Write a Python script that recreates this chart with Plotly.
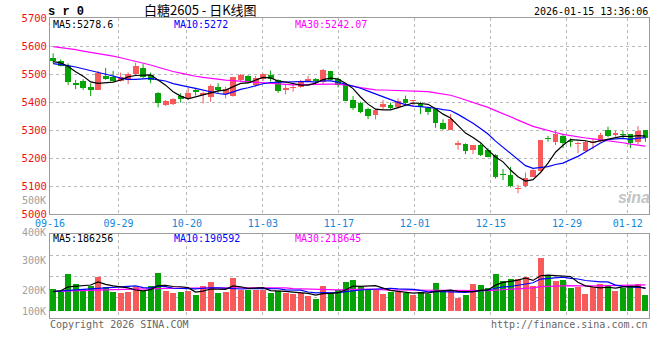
import plotly.graph_objects as go

# ---------------- data ----------------
date_labels = ["09-16", "09-29", "10-20", "11-03", "11-17", "12-01", "12-15", "12-29", "01-12"]
date_label_days = [0, 9, 18, 28, 38, 48, 58, 68, 76]   # trading-day index of each label

opens = [5558, 5546, 5529, 5469, 5475, 5455, 5443, 5494, 5488, 5476,
         5479, 5499, 5520, 5496, 5433, 5389, 5393, 5421, 5413, 5443,
         5425, 5419, 5455, 5427, 5423, 5479, 5493, 5461, 5481, 5496,
         5479, 5443, 5451, 5455, 5475, 5482, 5473, 5511, 5482, 5464,
         5407, 5395, 5374, 5354, 5383, 5389, 5383, 5411, 5405, 5393,
         5380, 5374, 5324, 5300, 5246, 5250, 5229, 5246, 5229, 5211,
         5143, 5139, 5089, 5101, 5133, 5155, 5271, 5258, 5279, 5261,
         5249, 5226, 5252, 5262, 5300, 5283, 5286, 5286, 5256, 5300]
highs = [5574, 5552, 5538, 5479, 5481, 5467, 5511, 5522, 5511, 5505,
         5506, 5540, 5535, 5505, 5435, 5407, 5414, 5431, 5451, 5451,
         5437, 5463, 5467, 5455, 5490, 5500, 5496, 5493, 5502, 5512,
         5481, 5461, 5467, 5479, 5493, 5485, 5518, 5511, 5488, 5467,
         5421, 5401, 5380, 5375, 5407, 5398, 5413, 5423, 5407, 5401,
         5383, 5377, 5338, 5357, 5262, 5252, 5246, 5252, 5235, 5214,
         5161, 5169, 5104, 5148, 5160, 5264, 5279, 5298, 5286, 5270,
         5258, 5262, 5270, 5290, 5312, 5298, 5298, 5286, 5314, 5300]
lows = [5538, 5527, 5461, 5446, 5443, 5421, 5443, 5479, 5473, 5473,
        5464, 5493, 5485, 5467, 5381, 5386, 5389, 5398, 5407, 5423,
        5395, 5401, 5431, 5413, 5419, 5473, 5467, 5455, 5475, 5473,
        5433, 5427, 5437, 5451, 5473, 5461, 5461, 5475, 5452, 5404,
        5371, 5360, 5339, 5338, 5374, 5374, 5377, 5392, 5383, 5357,
        5354, 5308, 5300, 5300, 5229, 5214, 5214, 5207, 5202, 5127,
        5121, 5095, 5074, 5095, 5133, 5151, 5258, 5246, 5235, 5240,
        5217, 5223, 5231, 5258, 5274, 5276, 5270, 5235, 5250, 5258]
closes = [5546, 5530, 5473, 5462, 5451, 5443, 5505, 5482, 5475, 5488,
          5499, 5529, 5490, 5479, 5398, 5405, 5412, 5411, 5431, 5435,
          5431, 5458, 5443, 5446, 5488, 5496, 5469, 5485, 5500, 5481,
          5440, 5451, 5455, 5475, 5482, 5475, 5514, 5479, 5461, 5405,
          5380, 5365, 5351, 5371, 5392, 5380, 5405, 5398, 5407, 5383,
          5365, 5326, 5302, 5339, 5252, 5226, 5246, 5211, 5205, 5131,
          5138, 5100, 5092, 5127, 5157, 5264, 5269, 5286, 5252, 5257,
          5255, 5258, 5258, 5282, 5280, 5288, 5282, 5252, 5298, 5270]

ma5 = [5544, 5540, 5527, 5508, 5492.4, 5471.8, 5466.8, 5468.6, 5471.2, 5478.6,
       5489.8, 5494.6, 5496.2, 5497.0, 5479.0, 5460.2, 5436.8, 5421.0, 5411.4, 5418.8,
       5424.0, 5433.2, 5439.6, 5442.6, 5453.2, 5466.2, 5468.4, 5476.8, 5487.6, 5486.2,
       5475.0, 5471.4, 5465.4, 5460.4, 5460.6, 5467.6, 5480.2, 5485.0, 5482.2, 5466.8,
       5447.8, 5418.0, 5392.4, 5374.4, 5371.8, 5371.8, 5379.8, 5389.2, 5396.4, 5394.6,
       5391.6, 5375.8, 5356.6, 5343.0, 5316.8, 5289.0, 5273.0, 5254.8, 5228.0, 5203.8,
       5186.2, 5157.0, 5133.2, 5117.6, 5122.8, 5148.0, 5181.8, 5220.6, 5245.6, 5265.6,
       5263.8, 5261.6, 5256.0, 5262.0, 5266.6, 5273.2, 5278.0, 5276.8, 5280.0, 5278.0]
ma10 = [5537, 5534, 5530, 5525, 5519, 5512, 5506, 5500, 5493, 5485.5,
        5480.8, 5480.7, 5482.4, 5484.1, 5478.8, 5475.0, 5465.7, 5458.6, 5454.2, 5448.9,
        5442.1, 5435.0, 5430.3, 5427.0, 5436.0, 5445.1, 5450.8, 5458.2, 5465.1, 5469.7,
        5470.6, 5469.9, 5471.1, 5474.0, 5473.4, 5471.3, 5475.8, 5475.2, 5471.3, 5463.7,
        5457.7, 5449.1, 5438.7, 5428.3, 5419.3, 5409.8, 5398.9, 5390.8, 5385.4, 5383.2,
        5381.7, 5377.8, 5372.9, 5369.7, 5355.7, 5340.3, 5324.4, 5305.7, 5285.5, 5260.3,
        5237.6, 5215.0, 5194.0, 5172.8, 5163.3, 5167.1, 5169.4, 5176.9, 5181.6, 5194.2,
        5205.9, 5221.7, 5238.3, 5253.8, 5266.1, 5268.5, 5269.8, 5266.4, 5271.0, 5272.3]
ma30 = [5598, 5595, 5591, 5587, 5582, 5578, 5574, 5569, 5564, 5558,
        5552, 5546, 5539, 5532, 5524, 5516, 5509, 5503, 5497, 5492,
        5488, 5484, 5481, 5478, 5476, 5474, 5472, 5470, 5469, 5468.0,
        5464.5, 5461.9, 5461.3, 5461.7, 5462.7, 5463.8, 5464.1, 5464.0, 5463.5, 5460.8,
        5456.8, 5451.3, 5446.7, 5443.1, 5442.9, 5442.1, 5441.8, 5441.4, 5440.6, 5438.9,
        5436.7, 5432.3, 5427.6, 5424.0, 5416.1, 5407.1, 5399.7, 5390.6, 5380.7, 5369.1,
        5359.0, 5347.3, 5335.2, 5323.6, 5312.8, 5305.7, 5297.6, 5291.1, 5284.2, 5279.2,
        5275.1, 5271.5, 5268.4, 5265.4, 5261.7, 5258.6, 5254.5, 5249.7, 5246.0, 5242.3]

# volume, in thousands of lots
volume_k = [183, 155, 307, 224, 183, 210, 285, 202, 160, 152,
            160, 197, 169, 208, 318, 169, 152, 160, 169, 133,
            208, 243, 152, 160, 276, 174, 174, 174, 174, 152,
            169, 147, 141, 147, 125, 100, 208, 152, 174, 243,
            257, 197, 183, 174, 141, 160, 160, 147, 133, 160,
            139, 235, 160, 174, 110, 133, 224, 216, 193, 307,
            249, 266, 266, 280, 208, 442, 291, 249, 257, 193,
            202, 141, 202, 224, 216, 169, 193, 216, 224, 133]
vma5_k = [162, 168, 200, 205, 210.4, 215.8, 241.8, 220.8, 208, 201.8,
          191.8, 174.2, 167.6, 177.2, 210.4, 212.2, 203.2, 201.4, 193.6, 156.6,
          164.4, 182.6, 181, 179.2, 207.8, 201, 187.2, 191.6, 194.4, 169.6,
          168.6, 163.2, 156.6, 151.2, 145.8, 132, 144.2, 146.4, 151.8, 175.4,
          206.8, 204.6, 210.8, 210.8, 190.4, 171, 163.6, 156.4, 148.2, 152,
          147.8, 162.8, 165.4, 173.6, 163.6, 162.4, 160.2, 171.4, 175.2, 214.6,
          237.8, 246.2, 256.2, 273.6, 253.8, 292.4, 297.4, 294, 289.4, 286.4,
          238.4, 208.4, 199, 192.4, 197, 190.4, 200.8, 203.6, 203.6, 187]
vma10_k = [160, 163, 170, 175, 180, 184, 190, 196, 200, 206.1,
           203.8, 208, 194.2, 192.6, 206.1, 202, 188.7, 184.5, 185.4, 183.5,
           188.3, 192.9, 191.2, 186.4, 182.2, 182.7, 184.9, 186.3, 186.8, 188.7,
           184.8, 175.2, 174.1, 172.8, 157.7, 150.3, 153.7, 151.5, 151.5, 160.6,
           169.4, 174.4, 178.6, 181.3, 182.9, 188.9, 184.1, 183.6, 179.5, 171.2,
           159.4, 163.2, 160.9, 160.9, 157.8, 155.1, 161.5, 168.4, 174.4, 189.1,
           200.1, 203.2, 213.8, 224.4, 234.2, 265.1, 271.8, 275.1, 281.5, 270.1,
           265.4, 252.9, 246.5, 240.9, 241.7, 214.4, 204.6, 201.3, 198, 192]
vma30_k = [163, 164, 166, 168, 170, 172, 174, 176, 178, 180,
           182, 184, 185, 186, 188, 189, 190, 190, 191, 191,
           192, 192, 193, 193, 193, 193, 193, 193, 193, 192.8,
           192.3, 192, 186.5, 183.9, 182, 178.3, 175.8, 174.1, 174.6, 177.6,
           180.8, 180.8, 181.3, 180.2, 174.3, 174, 174.2, 173.8, 172.6, 173.5,
           171.2, 170.9, 171.2, 171.7, 166.1, 164.8, 166.4, 167.8, 168.5, 173.6,
           176.3, 180.3, 184.4, 188.9, 191.6, 203, 205.8, 209, 211.8, 210.1,
           208.3, 206.4, 207.1, 208.7, 211.2, 211.5, 212.6, 214.9, 218, 217.1]

price_ticks = [5000, 5100, 5200, 5300, 5400, 5500, 5600, 5700]
vol_label_text = ["500K", "400K", "300K", "200K", "100K"]

# ---------------- styling ----------------
W, H = 660, 360
RED = "#f65a5a"
GREEN = "#06a306"
GRID = "#b9b9b9"
FRAME = "#9c9c9c"
MONO = "DejaVu Sans Mono"


def px(x):
    return x / W


def py(y):
    return 1 - y / H


n = len(closes)
xs = list(range(n))
is_up = [c >= o for o, c in zip(opens, closes)]
colors = [RED if u else GREEN for u in is_up]
body_base = [min(o, c) for o, c in zip(opens, closes)]
body_len = [max(abs(c - o), 2.5) for o, c in zip(opens, closes)]

# grid positions of the date labels (sina spaces its date grid slightly wider than the candles)
GRID_STEP, GRID_OFF = 7.603 / 7.5, -0.41
grid_x = [d * GRID_STEP + GRID_OFF for d in date_label_days]

fig = go.Figure()

# wicks
for want_up, col in ((True, RED), (False, GREEN)):
    wx, wy = [], []
    for i in xs:
        if is_up[i] == want_up:
            wx += [i, i, None]
            wy += [lows[i], highs[i], None]
    fig.add_trace(go.Scatter(x=wx, y=wy, mode="lines", line=dict(color=col, width=1),
                             hoverinfo="skip", xaxis="x", yaxis="y"))

# bodies
fig.add_trace(go.Bar(x=xs, y=body_len, base=body_base, marker=dict(color=colors, line=dict(width=0)),
                     width=0.78, xaxis="x", yaxis="y"))

# price moving averages
for arr, col in ((ma30, "#ff00ff"), (ma10, "#0000ff"), (ma5, "#000000")):
    fig.add_trace(go.Scatter(x=xs, y=arr, mode="lines", line=dict(color=col, width=1.2),
                             xaxis="x", yaxis="y"))

# volume bars
fig.add_trace(go.Bar(x=xs, y=volume_k, marker=dict(color=colors, line=dict(width=0)),
                     width=0.8, xaxis="x2", yaxis="y2"))
for arr, col in ((vma30_k, "#ff00ff"), (vma10_k, "#0000ff"), (vma5_k, "#000000")):
    fig.add_trace(go.Scatter(x=xs, y=arr, mode="lines", line=dict(color=col, width=1.2),
                             xaxis="x2", yaxis="y2"))

# ---------------- layout ----------------
x_dom = [px(50), px(649)]
x_rng = [-0.42, 79.47]
vol_rng = [-60.6, 636.6]
vol_grid = [vol_rng[0] + (vol_rng[1] - vol_rng[0]) * q for q in (0.25, 0.5, 0.75)]

axis_common = dict(showline=True, mirror=True, linecolor=FRAME, linewidth=1,
                   showgrid=True, gridcolor=GRID, griddash="dot", gridwidth=1,
                   zeroline=False, ticks="", fixedrange=True, automargin=False)

fig.update_layout(
    template="none",
    width=W, height=H, margin=dict(l=0, r=0, t=0, b=0, pad=0, autoexpand=False),
    paper_bgcolor="white", plot_bgcolor="white",
    showlegend=False, barmode="overlay", bargap=0,
    xaxis=dict(domain=x_dom, range=x_rng, anchor="y", tickmode="array",
               tickvals=grid_x, ticktext=date_labels,
               tickfont=dict(family=MONO, size=10, color="#1286da"), **axis_common),
    yaxis=dict(domain=[py(214), py(18)], range=[5000, 5700], anchor="x", tickmode="array",
               tickvals=price_ticks, ticktext=[str(v) for v in price_ticks],
               tickfont=dict(family=MONO, size=10.5, color="#ee1111"), **axis_common),
    xaxis2=dict(domain=x_dom, range=x_rng, anchor="y2", tickmode="array",
                tickvals=grid_x, showticklabels=False, **axis_common),
    yaxis2=dict(domain=[py(318.3), py(234.3)], range=vol_rng, anchor="x2", tickmode="array",
                tickvals=vol_grid, showticklabels=False, **axis_common),
)


def note(text, x, y, color="#000000", size=10, anchor="left", family=MONO, **font_kw):
    fig.add_annotation(text=text, x=px(x), y=py(y), xref="paper", yref="paper",
                       xanchor=anchor, yanchor="middle", showarrow=False,
                       font=dict(family=family, size=size, color=color, **font_kw),
                       borderpad=0)


note("<b>s r 0</b>", 47, 11.5, size=12, family="Liberation Mono")
note("白糖2605 - 日K线图", 200, 9.5, size=13, anchor="center", family="Noto Sans CJK SC")
note("2026-01-15 13:36:06", 649, 12, anchor="right")

note("MA5:5278.6", 52, 24.5)
note("MA10:5272", 173, 24.5, color="#0000ff")
note("MA30:5242.07", 294, 24.5, color="#ff00ff")

note("MA5:186256", 52, 238.5)
note("MA10:190592", 173, 238.5, color="#0000ff")
note("MA30:218645", 294, 238.5, color="#ff00ff")

for txt, yy in zip(vol_label_text, [200, 232, 260, 290.7, 311]):
    note(txt, 46.5, yy, color="#a0a0a0", size=10, anchor="right")

note("Copyright 2026 SINA.COM", 49, 324, color="#666666")
note("http://finance.sina.com.cn", 649, 324, color="#666666", anchor="right")
note("sina", 634, 197, color="#c4c4c4", size=16, anchor="center", family="Liberation Sans",
     style="italic", weight="bold")

fig.write_html("out.html", config={"displayModeBar": False, "staticPlot": True},
               post_script="document.body.style.margin='0px';")
